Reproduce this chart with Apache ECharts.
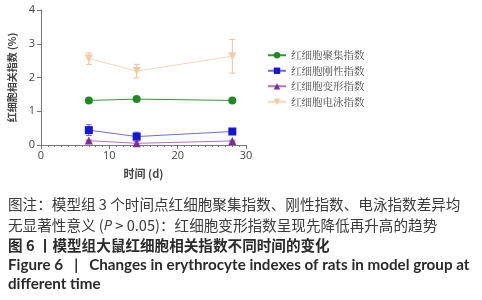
<!DOCTYPE html>
<html>
<head>
<meta charset="utf-8">
<script src="https://cdn.jsdelivr.net/npm/echarts@6/dist/echarts.min.js"></script>
<style>
  html, body { margin: 0; padding: 0; background: #fff; }
  #chart { width: 482px; height: 300px; }
</style>
</head>
<body>
<div id="chart"></div>
<script>
// time points (d)
const days = [7, 14, 28];

// series means and error (SD)
const seriesNames = ["红细胞聚集指数", "红细胞刚性指数", "红细胞变形指数", "红细胞电泳指数"];
const aggregation = [1.32, 1.36, 1.32];
const aggregationErr = [0.03, 0.03, 0.05];
const rigidity = [0.44, 0.25, 0.40];
const rigidityErr = [0.16, 0.13, 0.05];
const deformation = [0.13, 0.05, 0.12];
const deformationErr = [0.02, 0.05, 0.02];
const electrophoresis = [2.56, 2.19, 2.63];
const electrophoresisErr = [0.17, 0.2, 0.5];

const xTicks = [0, 10, 20, 30];
const yTicks = [0, 1, 2, 3, 4];

const colors = ["#1f8a24", "#1515d8", "#7b2e96", "#f6c9a2"];
const lineColors = ["#3a8f3e", "#6b6be0", "#b070c8", "#f8d6b8"];
const errColors = ["#3a8f3e", "#6b6be0", "#b070c8", "#f0c09a"];
const symbols = ["circle", "rect", "triangle", "triangle"];
const symbolRotate = [0, 0, 0, 180];

const means = [aggregation, rigidity, deformation, electrophoresis];
const errs = [aggregationErr, rigidityErr, deformationErr, electrophoresisErr];

const chart = echarts.init(document.getElementById("chart"));

const lineSeries = seriesNames.map((name, i) => ({
  name: name,
  type: "line",
  data: days.map((d, j) => [d, means[i][j]]),
  symbol: symbols[i],
  symbolRotate: symbolRotate[i],
  symbolSize: 8,
  itemStyle: { color: colors[i] },
  lineStyle: { color: lineColors[i], width: 1 },
  z: 3
}));

const errorSeries = seriesNames.map((name, i) => ({
  type: "custom",
  data: days.map((d, j) => [d, means[i][j] - errs[i][j], means[i][j] + errs[i][j]]),
  renderItem: (params, api) => {
    const lo = api.coord([api.value(0), api.value(1)]);
    const hi = api.coord([api.value(0), api.value(2)]);
    const w = 3;
    const style = { stroke: errColors[i], lineWidth: 1 };
    return {
      type: "group",
      children: [
        { type: "line", shape: { x1: lo[0], y1: lo[1], x2: hi[0], y2: hi[1] }, style },
        { type: "line", shape: { x1: lo[0] - w, y1: lo[1], x2: lo[0] + w, y2: lo[1] }, style },
        { type: "line", shape: { x1: hi[0] - w, y1: hi[1], x2: hi[0] + w, y2: hi[1] }, style }
      ]
    };
  },
  z: 2,
  silent: true
}));

const cjk = '"Noto Sans CJK SC", sans-serif';

const options = {
  animation: false,
  grid: { left: 41, right: 236, top: 10, bottom: 155 },
  xAxis: {
    type: "value",
    min: xTicks[0],
    max: xTicks[xTicks.length - 1],
    interval: 10,
    name: "时间 (d)",
    nameLocation: "middle",
    nameGap: 23,
    nameTextStyle: { color: "#444", fontSize: 11, fontWeight: "bold", fontFamily: cjk },
    axisLine: { lineStyle: { color: "#777", width: 1 } },
    axisTick: { length: 4, lineStyle: { color: "#777" } },
    minorTick: { show: true, splitNumber: 10, length: 2, lineStyle: { color: "#777" } },
    axisLabel: { color: "#444", fontSize: 11, fontFamily: "Open Sans", margin: 5 },
    splitLine: { show: false }
  },
  yAxis: {
    type: "value",
    min: yTicks[0],
    max: yTicks[yTicks.length - 1],
    interval: 1,
    name: "红细胞相关指数 (%)",
    nameLocation: "middle",
    nameRotate: 90,
    nameGap: 24,
    nameTextStyle: { color: "#444", fontSize: 10, fontWeight: "bold", fontFamily: cjk },
    axisLine: { show: true, lineStyle: { color: "#777", width: 1 } },
    axisTick: { show: true, length: 4, lineStyle: { color: "#777" } },
    axisLabel: { color: "#444", fontSize: 11, fontFamily: "Open Sans", margin: 6 },
    splitLine: { show: false }
  },
  legend: {
    data: seriesNames,
    orient: "vertical",
    left: 262,
    top: 45,
    itemGap: 5,
    itemWidth: 18,
    itemHeight: 8,
    textStyle: { color: "#444", fontSize: 10.5, fontFamily: '"Noto Serif CJK SC", "Noto Sans CJK SC", serif' }
  },
  series: lineSeries.concat(errorSeries),
  graphic: [
    {
      type: "text", left: 8, top: 197,
      style: { text: "图注：模型组 3 个时间点红细胞聚集指数、刚性指数、电泳指数差异均", fill: "#3a3a3a", font: "14.6px " + cjk }
    },
    {
      type: "text", left: 8, top: 218,
      style: {
        text: "无显著性意义 ({i|P} > 0.05)：红细胞变形指数呈现先降低再升高的趋势",
        fill: "#3a3a3a", font: "14.6px " + cjk,
        rich: { i: { fontStyle: "italic", fontSize: 14.6, fontFamily: "Open Sans", fill: "#3a3a3a" } }
      }
    },
    {
      type: "text", left: 8, top: 238,
      style: { text: "图 6 丨模型组大鼠红细胞相关指数不同时间的变化", fill: "#2a2a2a", font: "bold 14.6px " + cjk }
    },
    {
      type: "text", left: 8, top: 258,
      style: { text: "Figure 6   |   Changes in erythrocyte indexes of rats in model group at", fill: "#2a2a2a", font: "bold 15.2px Lato" }
    },
    {
      type: "text", left: 8, top: 277,
      style: { text: "different time", fill: "#2a2a2a", font: "bold 15.2px Lato" }
    }
  ]
};

chart.setOption(options);
</script>
</body>
</html>
